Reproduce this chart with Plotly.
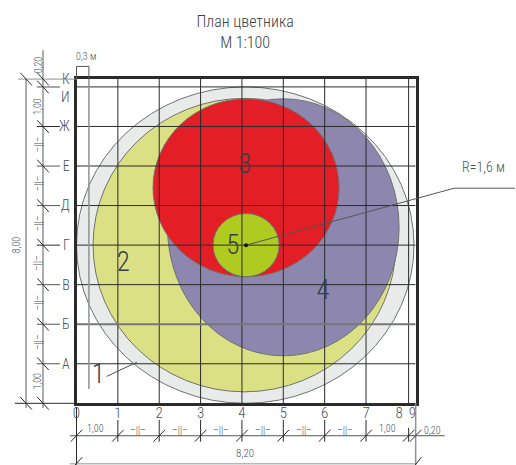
import plotly.graph_objects as go

# ---- data (metres on the plan) ----
plan_width = 8.2
plan_height = 8.2
grid_x = [1, 2, 3, 4, 5, 6, 7, 8.03]
grid_y = [1, 3, 4, 5, 6, 7, 8]
grid_y_grey = [2]

x_tick_vals = [0, 1, 2, 3, 4, 5, 6, 7, 7.8, 8.12]
x_tick_text = ["0", "1", "2", "3", "4", "5", "6", "7", "8", "9"]
y_tick_vals = [1, 2, 3, 4, 5, 6, 7, 7.74, 8.2]
y_tick_text = ["А", "Б", "В", "Г", "Д", "Е", "Ж", "И", "К"]

# beds: label, centre x, centre y, radius x, radius y, colour
bed_cx = [4.08, 4.06, 5.0, 4.1, 4.1]
bed_cy = [4.0, 4.0, 4.45, 5.45, 4.0]
bed_rx = [4.08, 3.66, 2.8, 2.25, 0.8]
bed_ry = [4.0, 3.71, 3.25, 2.25, 0.8]
bed_colors = ["#e9ebea", "#dce084", "#8d86ae", "#e31e26", "#afcb1f"]

bed_label_text = ["1", "2", "3", "4", "5"]
bed_label_x = [0.53, 1.13, 4.07, 5.96, 3.78]
bed_label_y = [0.69, 3.52, 6.0, 2.8, 3.95]

bottom_chain_x = [0, 1, 2, 3, 4, 5, 6, 7, 8.03, 8.2]
left_chain_y = [0, 1, 2, 3, 4, 5, 6, 7, 8, 8.2]

dim_text = ["1,00", "1,00", "0,20", "8,20", "0,3 м", "R=1,6 м"]
dim_x = [0.47, 7.53, 8.6, 4.07, 0.23, 9.85]
dim_y = [-0.63, -0.63, -0.68, -1.28, 8.78, 5.98]
dim_size = [10, 10, 10, 11, 10, 14]

gap_x = [1.48, 2.5, 3.5, 4.5, 5.5, 6.5]
gap_y = [-0.68] * 6

left_rot_text = ["0,20", "1,00", "1,00", "8,00"]
left_rot_x = [-0.93, -0.93, -0.93, -1.46]
left_rot_y = [8.55, 7.5, 0.55, 4.0]
gap_left_y = [6.55, 5.56, 4.55, 3.55, 2.55, 1.55]

ink = "#2b2b2b"
soft = "#8f9293"
text_col = "#4a5058"
font = "Roboto Condensed, DejaVu Sans Condensed, Roboto, sans-serif"
light = dict(family=font, weight=300)

W, H = 516, 465
fig = go.Figure()


def line(xs, ys, color=ink, width=1, axes=("x", "y")):
    fig.add_trace(go.Scatter(x=xs, y=ys, xaxis=axes[0], yaxis=axes[1], mode="lines", hoverinfo="skip",
                             line=dict(color=color, width=width), showlegend=False))


def dline(xs, ys, color=ink, width=1):
    line(xs, ys, color, width, ("x2", "y2"))


# beds
for cx, cy, rx, ry, col in zip(bed_cx, bed_cy, bed_rx, bed_ry, bed_colors):
    fig.add_shape(type="circle", xref="x", yref="y", x0=cx - rx, x1=cx + rx, y0=cy - ry, y1=cy + ry,
                  fillcolor=col, line=dict(color="#6f7270", width=1), layer="below")

# grid
for gx in grid_x:
    line([gx, gx], [0, plan_height])
for gy in grid_y:
    line([0, plan_width], [gy, gy])
for gy in grid_y_grey:
    line([0, plan_width], [gy, gy], "#777777", 2)

# 0.3 m offset and bracket
dline([0.3, 0.3], [0.36, plan_height], soft, 1.5)
dline([0, 0, 0.3, 0.3], [8.2, 8.52, 8.52, 8.2], "#555555", 1)

# bottom dimension chain
dline([-0.16, 8.9], [-0.82, -0.82], "#555555", 1)
dline([-0.16, plan_width], [-1.53, -1.53], "#b5b7b8", 1.5)
dline([0, 0], [-0.1, -1.55], ink, 1)
dline([plan_width, plan_width], [0, -1.55], soft, 1.5)
for vx in bottom_chain_x[1:8]:
    dline([vx, vx], [-0.42, -0.97], ink, 1)
dline([8.03, 8.03], [-0.62, -0.97], ink, 1)
for vx in bottom_chain_x:
    dline([vx - 0.14, vx + 0.14], [-0.97, -0.67], ink, 1)
dline([plan_width - 0.1, plan_width + 0.14], [-1.68, -1.36], ink, 1)
dline([-0.14, 0.14], [-1.68, -1.36], ink, 1)

# left dimension chain
dline([-0.81, -0.81], [-0.12, 8.93], soft, 1.5)
dline([-1.22, -1.22], [-0.12, 8.22], soft, 1.5)
dline([-1.49, 0], [0, 0], ink, 1)
dline([-1.41, 0], [8.2, 8.2], soft, 1)
for ry in left_chain_y[1:9]:
    dline([-0.96, -0.4], [ry, ry], ink if ry in (4, 7) else "#555555", 1)
for ry in left_chain_y:
    dline([-0.95, -0.67], [ry + 0.16, ry - 0.16], ink, 1)
for ry in (0, 8.2):
    dline([-1.36, -1.08], [ry + 0.16, ry - 0.16], ink, 1)

# leaders
dline([0.73, 1.46], [0.68, 1.04], "#555555", 1)
dline([bed_cx[4], 9.13, 10.6], [bed_cy[4], 5.44, 5.44], "#555555", 1)
fig.add_trace(go.Scatter(x=[bed_cx[4]], y=[bed_cy[4]], xaxis="x2", yaxis="y2", mode="markers", hoverinfo="skip",
                         marker=dict(color="#111111", size=4), showlegend=False))

# bed numbers
fig.add_trace(go.Scatter(x=bed_label_x, y=bed_label_y, xaxis="x2", yaxis="y2", mode="text", text=bed_label_text,
                         hoverinfo="skip", textfont=dict(size=27, color="#3a3f46", **light), showlegend=False))

# dimension texts
for t, x, y, s in zip(dim_text, dim_x, dim_y, dim_size):
    fig.add_annotation(x=x, y=y, xref="x2", yref="y2", text=t, showarrow=False,
                       font=dict(size=s, color=text_col, **light))
for x, y in zip(gap_x, gap_y):
    fig.add_annotation(x=x, y=y, xref="x2", yref="y2", text="–||–", showarrow=False,
                       font=dict(size=10, color=text_col, **light))
for t, x, y in zip(left_rot_text, left_rot_x, left_rot_y):
    fig.add_annotation(x=x, y=y, xref="x2", yref="y2", text=t, textangle=-90, showarrow=False,
                       font=dict(size=10, color=text_col, **light))
for y in gap_left_y:
    fig.add_annotation(x=-0.93, y=y, xref="x2", yref="y2", text="–||–", textangle=-90, showarrow=False,
                       font=dict(size=10, color=text_col, **light))

fig.update_layout(
    width=W, height=H,
    margin=dict(l=0, r=0, t=0, b=0, pad=0, autoexpand=False),
    paper_bgcolor="white", plot_bgcolor="rgba(0,0,0,0)",
    showlegend=False,
    title=dict(text="План цветника<br>М 1:100", x=0.475, xanchor="center", y=0.942, yanchor="top",
               pad=dict(t=0), automargin=False,
               font=dict(size=16, color="#3a3f46", **light)),
    xaxis=dict(domain=[76.5 / W, 415.65 / W], range=[0, plan_width], tickvals=x_tick_vals, ticktext=x_tick_text,
               showgrid=False, zeroline=False, showline=True, mirror=True, linecolor=ink, linewidth=3, ticks="",
               ticklabelstandoff=-6, tickfont=dict(size=15, color=text_col, **light), fixedrange=True),
    yaxis=dict(domain=[61.7 / H, 386 / H], range=[0, plan_height], tickvals=y_tick_vals, ticktext=y_tick_text,
               showgrid=False, zeroline=False, showline=True, mirror=True, linecolor=ink, linewidth=3, ticks="",
               ticklabelstandoff=1, tickfont=dict(size=14, color=text_col, **light), fixedrange=True),
    xaxis2=dict(domain=[0, 1], range=[-1.85, 10.626], visible=False, fixedrange=True),
    yaxis2=dict(domain=[0, 1], range=[-1.56, 10.2], visible=False, fixedrange=True),
)

fig.write_html("out.html", config=dict(displayModeBar=False),
               post_script="document.body.style.margin='0';")
